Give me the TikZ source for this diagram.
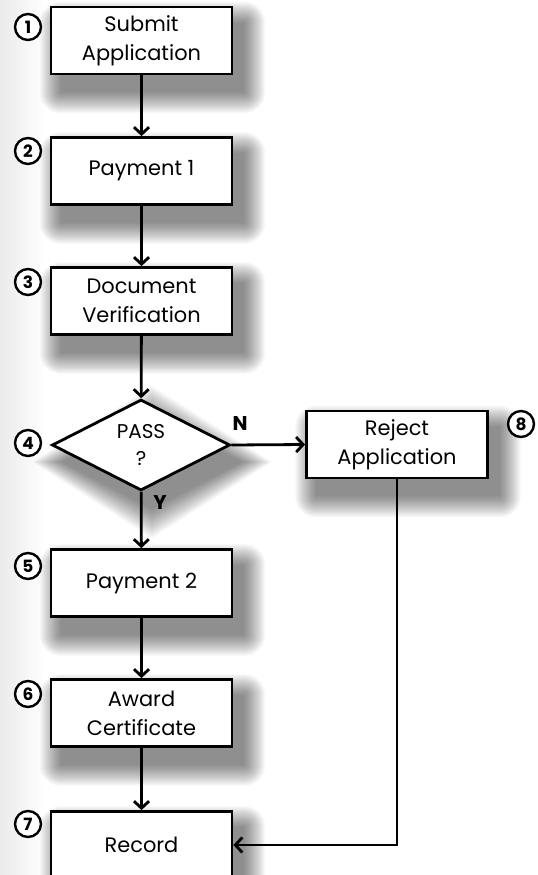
\documentclass[tikz,border=0pt]{standalone}
\usepackage{fontspec}
\setmainfont{Poppins}
\usetikzlibrary{shapes.geometric,arrows.meta,calc,backgrounds}

\begin{document}
\begin{tikzpicture}[x=1bp,y=-1bp,
  box/.style={draw, line width=2.8bp, fill=white, minimum width=181bp, minimum height=67bp,
    align=center, inner sep=0pt, font=\fontsize{21}{29}\selectfont},
  decision/.style={diamond, draw, line width=2.8bp, fill=white, minimum width=178bp, minimum height=91bp,
    inner sep=0pt, align=center, font=\fontsize{20}{28}\selectfont},
  num/.style={circle, draw, line width=2.4bp, fill=white, minimum size=26bp, inner sep=0pt,
    font=\bfseries\fontsize{17}{17}\selectfont},
  yn/.style={font=\bfseries\fontsize{20}{20}\selectfont, inner sep=0pt},
  arr/.style={line width=2.8bp, -{Straight Barb[length=7bp,width=15bp]}},
  shadlayer/.style={black, fill opacity=0.022}
]
\useasboundingbox (0,0) rectangle (538,875);

\node[box] (s1) at (141.5,40.5) {Submit\\Application};
\node[box] (s2) at (141.5,171) {Payment 1};
\node[box] (s3) at (141.5,301) {Document\\Verification};
\node[decision] (s4) at (141,445) {PASS\\?};
\node[box] (s8) at (397,444.5) {Reject\\Application};
\node[box] (s5) at (141.5,583) {Payment 2};
\node[box] (s6) at (141.5,713) {Award\\Certificate};
\node[box] (s7) at (141.5,845) {Record};

\node[num] (n1) at (28,27) {1};
\node[num] (n2) at (28,151) {2};
\node[num] (n3) at (28,282) {3};
\node[num] (n4) at (28,443) {4};
\node[num] (n5) at (28,566) {5};
\node[num] (n6) at (28,694) {6};
\node[num] (n7) at (28,824) {7};
\node[num] (n8) at (521,424) {8};

\draw[arr] (s1) -- (s2);
\draw[arr] (s2) -- (s3);
\draw[arr] (s3) -- (s4);
\draw[arr] (s4) -- (s5);
\draw[arr] (s5) -- (s6);
\draw[arr] (s6) -- (s7);
\draw[arr] (s4.east) -- (s8.west);
\draw[arr] (s8.south) |- (s7.east);

\node[yn] (lN) at (240,424) {N};
\node[yn] (lY) at (160,502) {Y};

\begin{pgfonlayer}{background}
  \fill[white] (0,0) rectangle (538,875);
  \shade[left color=black!8, right color=white] (0,0) rectangle (45,875);
  \foreach \r in {0,1,...,21}{
    \foreach \n in {s1,s2,s3,s8,s5,s6,s7}{
      \fill[shadlayer, rounded corners=\r bp]
        ($(\n.north west)+(11bp-\r bp,-17bp+\r bp)$) rectangle
        ($(\n.south east)+(11bp+\r bp,-17bp-\r bp)$);
    }
    \fill[shadlayer]
      ($(s4.north)+(11bp,-17bp+1.4*\r bp)$) --
      ($(s4.east)+(11bp+1.4*\r bp,-17bp)$) --
      ($(s4.south)+(11bp,-17bp-1.4*\r bp)$) --
      ($(s4.west)+(11bp-1.4*\r bp,-17bp)$) -- cycle;
  }
\end{pgfonlayer}
\end{tikzpicture}
\end{document}
